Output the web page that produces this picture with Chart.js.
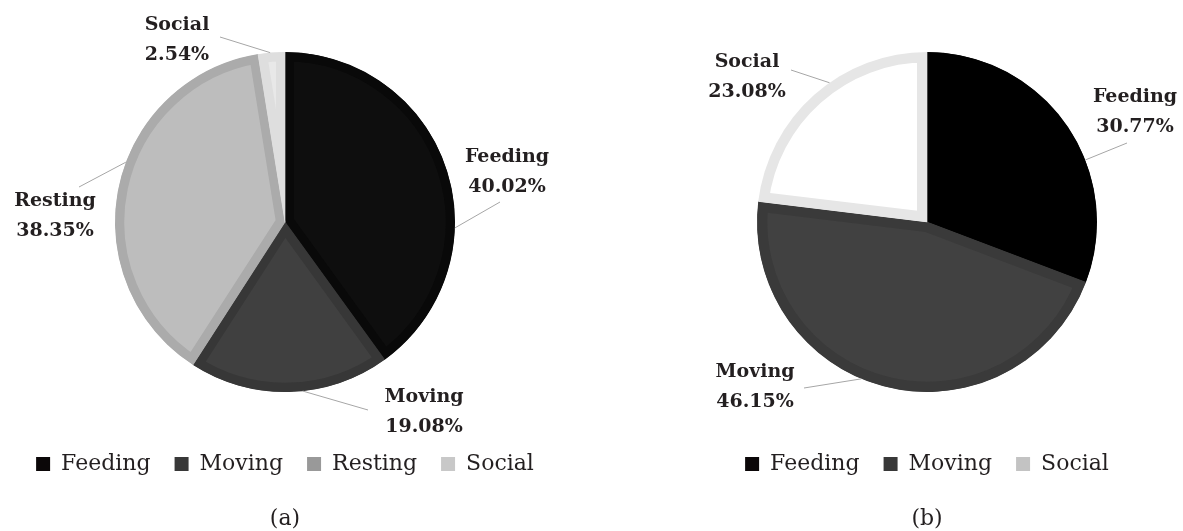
<!DOCTYPE html>
<html>
<head>
<meta charset="utf-8">
<script src="https://cdn.jsdelivr.net/npm/chart.js@4/dist/chart.umd.min.js"></script>
<style>
  html, body { margin: 0; padding: 0; background: #fff; }
  body { width: 1183px; height: 531px; position: relative; overflow: hidden; }
  .panel { position: absolute; top: 0; height: 531px; }
  #panelA { left: 0; width: 570px; }
  #panelB { left: 671px; width: 512px; }
</style>
</head>
<body>
<div class="panel" id="panelA"><canvas id="chartA"></canvas></div>
<div class="panel" id="panelB"><canvas id="chartB"></canvas></div>
<script>
// activity budget, % of observations
const labelsA = ['Feeding', 'Moving', 'Resting', 'Social'];
const valuesA = [40.02, 19.08, 38.35, 2.54];
const labelsB = ['Feeding', 'Moving', 'Social'];
const valuesB = [30.77, 46.15, 23.08];
const captionA = '(a)';
const captionB = '(b)';

const TEXT = '#231f20';
const SERIF = "'DejaVu Serif', 'Liberation Serif', serif";

// callouts: leader attaches to the rim at `at` degrees (clockwise from 12 o'clock),
// runs to `tail`, text block's first baseline at `text` (px from pie centre)
const calloutsA = [
  { at: 92,    tail: [215, -20],  text: [222, -60] },
  { at: 174,   tail: [83, 188],   text: [139, 180] },
  { at: 290.6, tail: [-206, -35], text: [-230, -16] },
  { at: 355,   tail: [-65, -185], text: [-108, -192] }
];
const calloutsB = [
  { at: 68.6,  tail: [200, -79],  text: [208, -120] },
  { at: 202.7, tail: [-123, 166], text: [-172, 155] },
  { at: 325,   tail: [-136, -152], text: [-180, -155] }
];

const calloutPlugin = {
  id: 'callouts',
  afterDraw(chart, args, opts) {
    const ctx = chart.ctx;
    const meta = chart.getDatasetMeta(0);
    const ds = chart.data.datasets[0];
    meta.data.forEach((arc, i) => {
      const c = opts.items[i];
      if (!c) return;
      const { x, y, outerRadius } = arc.getProps(['x', 'y', 'outerRadius'], true);
      const a = c.at * Math.PI / 180;
      const px = x + outerRadius * Math.sin(a);
      const py = y - outerRadius * Math.cos(a);
      ctx.save();
      ctx.strokeStyle = '#a6a6a6';
      ctx.lineWidth = 1;
      ctx.beginPath();
      ctx.moveTo(px, py);
      ctx.lineTo(x + c.tail[0], y + c.tail[1]);
      ctx.stroke();

      ctx.fillStyle = TEXT;
      ctx.font = 'bold 19px ' + SERIF;
      ctx.textAlign = 'center';
      ctx.textBaseline = 'alphabetic';
      const tx = x + c.text[0];
      const ty = y + c.text[1];
      ctx.fillText(chart.data.labels[i], tx, ty);
      ctx.fillText(ds.data[i].toFixed(2) + '%', tx, ty + 30);
      ctx.restore();
    });
  }
};

function makePie(canvasId, labels, values, fills, borders, swatches, borderWidth, caption, callouts) {
  return new Chart(document.getElementById(canvasId), {
    type: 'pie',
    data: {
      labels: labels,
      datasets: [{
        data: values,
        backgroundColor: fills,
        borderColor: borders,
        borderWidth: borderWidth,
        borderAlign: 'inner',
        radius: 170
      }]
    },
    options: {
      responsive: true,
      maintainAspectRatio: false,
      animation: false,
      events: [],
      layout: { padding: { top: 15, bottom: 1, left: 0, right: 0 } },
      plugins: {
        tooltip: { enabled: false },
        legend: {
          position: 'bottom',
          labels: {
            color: TEXT,
            font: { family: SERIF, size: 22 },
            boxWidth: 14,
            boxHeight: 14,
            padding: 24,
            generateLabels(chart) {
              return chart.data.labels.map((text, i) => ({
                text: text,
                fillStyle: swatches[i],
                strokeStyle: swatches[i],
                lineWidth: 0,
                fontColor: TEXT,
                hidden: false,
                index: i
              }));
            }
          }
        },
        title: {
          display: true,
          position: 'bottom',
          text: caption,
          color: TEXT,
          font: { family: SERIF, size: 22, weight: 'normal', lineHeight: 1 },
          padding: { top: 23, bottom: 0 }
        },
        callouts: { items: callouts }
      }
    },
    plugins: [calloutPlugin]
  });
}

makePie('chartA', labelsA, valuesA,
  ['#0e0e0e', '#404040', '#bdbdbd', '#e8e8e8'],
  ['#090909', '#373737', '#ababab', '#dedede'],
  ['#0b0708', '#383838', '#999999', '#c8c8c8'],
  9, captionA, calloutsA);

makePie('chartB', labelsB, valuesB,
  ['#000000', '#414141', '#ffffff'],
  ['#000000', '#3a3a3a', '#e6e6e6'],
  ['#0b0708', '#383838', '#c3c3c3'],
  10, captionB, calloutsB);
</script>
</body>
</html>
